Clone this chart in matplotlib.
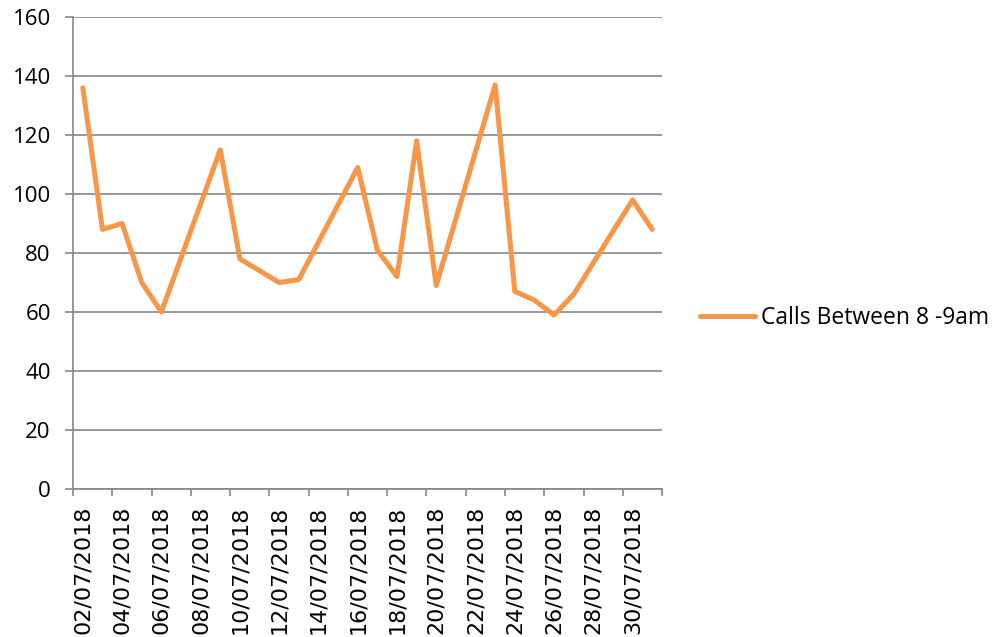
import pandas as pd
import matplotlib.pyplot as plt

# weekday call counts, July 2018 (weekends missing)
dates = ['02/07/2018', '03/07/2018', '04/07/2018', '05/07/2018', '06/07/2018',
         '09/07/2018', '10/07/2018', '11/07/2018', '12/07/2018', '13/07/2018',
         '16/07/2018', '17/07/2018', '18/07/2018', '19/07/2018', '20/07/2018',
         '23/07/2018', '24/07/2018', '25/07/2018', '26/07/2018', '27/07/2018',
         '30/07/2018', '31/07/2018']
calls = [136, 88, 90, 70, 60,
         115, 78, 74, 70, 71,
         109, 81, 72, 118, 69,
         137, 67, 64, 59, 66,
         98, 88]

d = pd.to_datetime(dates, format='%d/%m/%Y')
start = d[0]
x = (d - start).days.values
n_days = (d[-1] - start).days + 1

grey = '#868686'
orange = '#F79646'

fig = plt.figure(figsize=(9.96, 6.37), dpi=100)
ax = fig.add_axes([0.0733, 0.2323, 0.5914, 0.7410])

ax.plot(x, calls, color=orange, lw=3.6, solid_joinstyle='round',
        solid_capstyle='round', label='Calls Between 8 -9am')

ax.set_ylim(0, 160)
ax.set_xlim(-0.5, n_days - 0.5)
ax.set_yticks(range(0, 161, 20))
ax.yaxis.grid(True, color=grey, lw=1.2)
ax.set_axisbelow(True)

# major ticks on day boundaries, labels centred on the days
ax.set_xticks([k - 0.5 for k in range(0, n_days + 1, 2)])
ax.set_xticklabels([])
lab_days = list(range(0, n_days, 2))
ax.set_xticks(lab_days, minor=True)
ax.set_xticklabels([(start + pd.Timedelta(days=k)).strftime('%d/%m/%Y') for k in lab_days],
                   minor=True, rotation=90, fontsize=16, family='DejaVu Sans')
ax.tick_params(axis='x', which='minor', length=0, pad=12)
ax.tick_params(axis='x', which='major', length=5, width=1.2, color=grey)
ax.tick_params(axis='y', length=6, width=1.2, color=grey, labelsize=16, pad=10)
for t in ax.get_yticklabels():
    t.set_family('Open Sans')

for s in ['top', 'right']:
    ax.spines[s].set_visible(False)
for s in ['left', 'bottom']:
    ax.spines[s].set_color(grey)
    ax.spines[s].set_linewidth(1.2)

fig.legend(loc='center left', bbox_to_anchor=(0.703, 1 - 318 / 637), frameon=False,
           handlelength=2.4, handletextpad=0.25, borderpad=0, borderaxespad=0,
           prop={'family': 'Open Sans', 'size': 16.5})

fig.savefig('out.png', dpi=100)
